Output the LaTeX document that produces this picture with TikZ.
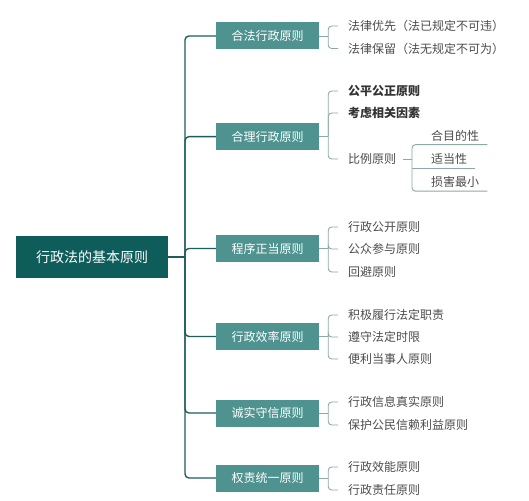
\documentclass[tikz,border=0pt]{standalone}
\usepackage{fontspec}
\setmainfont{Noto Sans CJK SC}
\begin{document}
\begin{tikzpicture}[x=1pt,y=-1pt,
  rootbox/.style={fill=rootc,text=white,minimum width=152pt,minimum height=42pt,inner sep=0pt,font=\fontsize{14}{16}\selectfont},
  lonebox/.style={fill=l1c,text=white,minimum width=103pt,minimum height=27pt,inner sep=0pt,font=\fontsize{12}{14}\selectfont},
  leaf/.style={anchor=west,text=leafc,inner xsep=10pt,inner ysep=2pt,font=\fontsize{12}{14}\selectfont},
  boldleaf/.style={leaf,text=boldc,font=\fontsize{12}{14}\selectfont\bfseries},
  subleaf/.style={anchor=west,text=leafc,inner xsep=8pt,inner ysep=3.4pt,font=\fontsize{12}{14}\selectfont},
  spine/.style={draw=spinec,line width=1.4pt,rounded corners=4pt},
  twig/.style={draw=twigc,line width=0.9pt,rounded corners=3.5pt}]
\definecolor{rootc}{HTML}{0F5D5A}
\definecolor{l1c}{HTML}{4E938F}
\definecolor{leafc}{HTML}{4D4D4D}
\definecolor{boldc}{HTML}{333333}
\definecolor{spinec}{HTML}{1D5E5B}
\definecolor{twigc}{HTML}{8CA9A7}
\useasboundingbox (0,0) rectangle (529,500);
\fill[white] (0,0) rectangle (529,500);

% root
\node[rootbox] (root) at (92,257) {行政法的基本原则};

% level 1
\node[lonebox] (a) at (267.5,36) {合法行政原则};
\node[lonebox] (b) at (267.5,136.6) {合理行政原则};
\node[lonebox] (c) at (267.5,248.5) {程序正当原则};
\node[lonebox] (d) at (267.5,336.5) {行政效率原则};
\node[lonebox] (e) at (267.5,413) {诚实守信原则};
\node[lonebox] (f) at (267.5,478) {权责统一原则};

\draw[spine,rounded corners=0pt] (root.east) -- (185,257) coordinate (j);
\foreach \n in {a,b,c,d,e,f}{\draw[spine] (j) |- (\n.west);}

% leaves
\node[leaf] (a1) at (338,26) {法律优先（法已规定不可违）};
\node[leaf] (a2) at (338,48.5) {法律保留（法无规定不可为）};

\node[boldleaf] (b1) at (338,91) {公平公正原则};
\node[boldleaf] (b2) at (338,113) {考虑相关因素};
\node[leaf] (b3) at (338,159) {比例原则};

\node[leaf] (c1) at (338,227) {行政公开原则};
\node[leaf] (c2) at (338,249) {公众参与原则};
\node[leaf] (c3) at (338,272) {回避原则};

\node[leaf] (d1) at (338,315) {积极履行法定职责};
\node[leaf] (d2) at (338,337) {遵守法定时限};
\node[leaf] (d3) at (338,359) {便利当事人原则};

\node[leaf] (e1) at (338,402) {行政信息真实原则};
\node[leaf] (e2) at (338,425) {保护公民信赖利益原则};

\node[leaf] (f1) at (338,467) {行政效能原则};
\node[leaf] (f2) at (338,490) {行政责任原则};

% brackets
\draw[twig,rounded corners=0pt] (a.east) -- ++(9,0) coordinate (aj);
\foreach \n in {a1,a2}{\draw[twig] (aj) |- (\n.west);}
\draw[twig,rounded corners=0pt] (b.east) -- ++(9,0) coordinate (bj);
\foreach \n in {b1,b2,b3}{\draw[twig] (bj) |- (\n.west);}
\draw[twig,rounded corners=0pt] (c.east) -- ++(9,0) coordinate (cj);
\foreach \n in {c1,c2,c3}{\draw[twig] (cj) |- (\n.west);}
\draw[twig,rounded corners=0pt] (d.east) -- ++(9,0) coordinate (dj);
\foreach \n in {d1,d2,d3}{\draw[twig] (dj) |- (\n.west);}
\draw[twig,rounded corners=0pt] (e.east) -- ++(9,0) coordinate (ej);
\foreach \n in {e1,e2}{\draw[twig] (ej) |- (\n.west);}
\draw[twig,rounded corners=0pt] (f.east) -- ++(9,0) coordinate (fj);
\foreach \n in {f1,f2}{\draw[twig] (fj) |- (\n.west);}

% proportionality sub-leaves
\node[subleaf] (s1) at (423,135.5) {合目的性};
\node[subleaf] (s2) at (423,159) {适当性};
\node[subleaf] (s3) at (423,182) {损害最小};
\draw[twig,rounded corners=0pt] ([xshift=-3pt]b3.east) -- (412,159) coordinate (sj);
\draw[twig] (s1.south east) -- (s1.south east -| sj) -- (s3.south east -| sj) -- (s3.south east);
\draw[twig,rounded corners=0pt] (s2.south east -| sj) -- (s2.south east);
\end{tikzpicture}
\end{document}
